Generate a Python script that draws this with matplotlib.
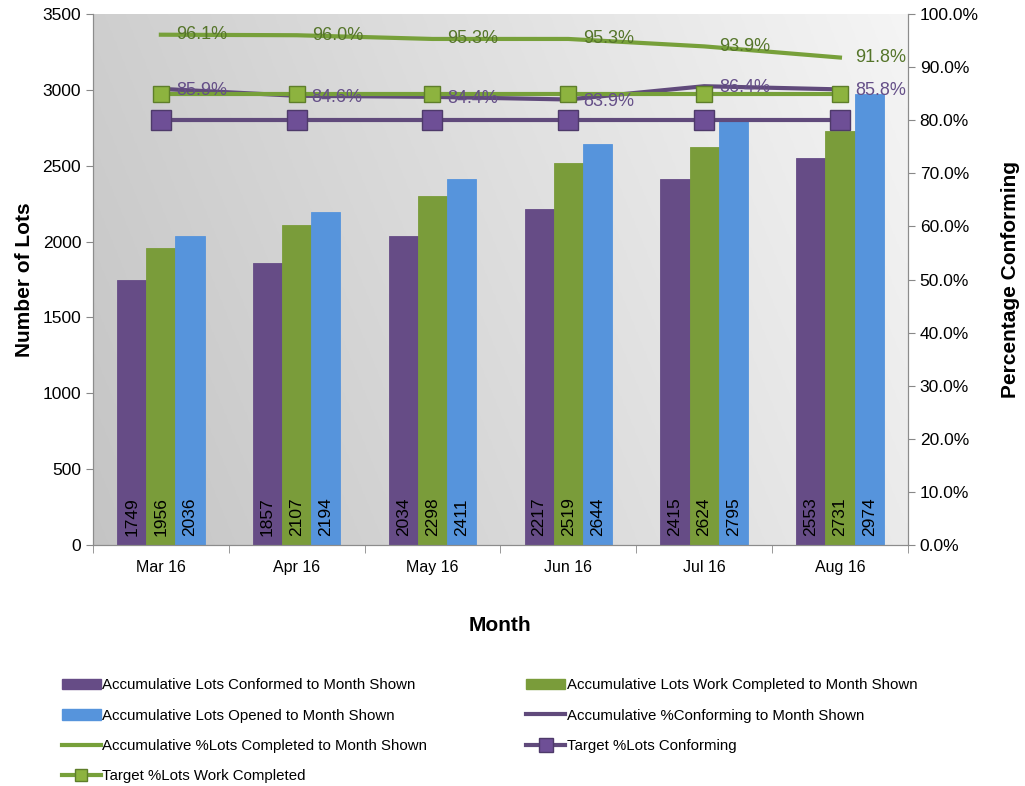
import numpy as np
import matplotlib
matplotlib.use("Agg")
import matplotlib.pyplot as plt
from matplotlib.lines import Line2D
from matplotlib.patches import Patch

months = ["Mar 16", "Apr 16", "May 16", "Jun 16", "Jul 16", "Aug 16"]
lots_conformed = [1749, 1857, 2034, 2217, 2415, 2553]
lots_completed = [1956, 2107, 2298, 2519, 2624, 2731]
lots_opened = [2036, 2194, 2411, 2644, 2795, 2974]
pct_conforming = [85.9, 84.6, 84.4, 83.9, 86.4, 85.8]
pct_completed = [96.1, 96.0, 95.3, 95.3, 93.9, 91.8]
target_conforming = [80, 80, 80, 80, 80, 80]
target_completed = [85, 85, 85, 85, 85, 85]

plt.rcParams['font.family'] = ['Liberation Sans', 'DejaVu Sans']

c_purple = "#664C86"
c_green = "#7A9C3A"
c_blue = "#5694DC"
c_pline = "#604A7B"
c_gline = "#77A03A"
c_plab = "#654F88"
c_glab = "#55752A"

fig = plt.figure(figsize=(10.25, 7.86), dpi=100)
ax = fig.add_axes([0.0907, 0.3066, 0.795, 0.6756])
ax2 = ax.twinx()

# gradient background
gx = np.linspace(0, 1, 200)
gy = np.linspace(0, 1, 200)
GX, GY = np.meshgrid(gx, gy)
val = 0.77 + 0.15 * GX + 0.04 * GY
img = np.dstack([val, val, val])
ax.imshow(img, extent=[0, 1, 0, 1], transform=ax.transAxes, origin='lower',
          aspect='auto', zorder=0)

x = np.arange(len(months))
w = 0.215
series = [(lots_conformed, c_purple, -w), (lots_completed, c_green, 0), (lots_opened, c_blue, w)]
for vals, col, off in series:
    ax.bar(x + off, vals, width=w, color=col, edgecolor=col, linewidth=0.6, zorder=2)
    for xi, v in zip(x + off, vals):
        ax.text(xi, 60, str(v), rotation=90, ha='center', va='bottom', fontsize=12.5,
                color='black', zorder=3)

ax.set_xlim(-0.5, len(months) - 0.5)
ax.set_ylim(0, 3500)
ax.set_yticks(np.arange(0, 3501, 500))
ax.set_xticks(x)
ax.set_xticklabels(months, fontsize=11.5)
ax.set_xticks(np.arange(-0.5, len(months), 1), minor=True)
ax.tick_params(axis='x', which='major', length=0, pad=11)
ax.tick_params(axis='x', which='minor', length=6, color='#888888')
ax.tick_params(axis='y', labelsize=12.5, color='#888888', length=5)

ax2.set_ylim(0, 100)
ax2.set_yticks(np.arange(0, 101, 10))
ax2.set_yticklabels([f"{v:.1f}%" for v in np.arange(0, 101, 10)], fontsize=12.5)
ax2.tick_params(axis='y', color='#888888', length=5)

for a in (ax, ax2):
    for s in ['left', 'right', 'bottom']:
        a.spines[s].set_color('#8C8C8C')
    a.spines['top'].set_visible(False)

ax2.plot(x, pct_completed, color=c_gline, lw=3, zorder=4)
ax2.plot(x, pct_conforming, color=c_pline, lw=3, zorder=4)
ax2.plot(x, target_completed, color=c_gline, lw=3, marker='s', markersize=11,
         markerfacecolor="#8DB33F", markeredgecolor="#5E7E2A", zorder=5)
ax2.plot(x, target_conforming, color=c_pline, lw=3, marker='s', markersize=14,
         markerfacecolor="#6E4F96", markeredgecolor="#4E3A6A", zorder=5)

for xi, v in zip(x, pct_completed):
    ax2.text(xi + 0.11, v, f"{v:.1f}%", ha='left', va='center', fontsize=13,
             color=c_glab, zorder=6)
for xi, v in zip(x, pct_conforming):
    ax2.text(xi + 0.11, v - 0.3, f"{v:.1f}%", ha='left', va='center', fontsize=13,
             color=c_plab, zorder=6)

ax.set_ylabel("Number of Lots", fontsize=15, fontweight='bold', labelpad=6)
ax2.set_ylabel("Percentage Conforming", fontsize=15, fontweight='bold', labelpad=16)
ax.set_xlabel("Month", fontsize=15, fontweight='bold', labelpad=29)

h_conf = Patch(facecolor=c_purple, edgecolor=c_purple)
h_comp = Patch(facecolor=c_green, edgecolor=c_green)
h_open = Patch(facecolor=c_blue, edgecolor=c_blue)
h_pconf = Line2D([], [], color=c_pline, lw=3)
h_pcomp = Line2D([], [], color=c_gline, lw=3)
h_tconf = Line2D([], [], color=c_pline, lw=3, marker='s', markersize=10,
                 markerfacecolor="#6E4F96", markeredgecolor="#4E3A6A")
h_tcomp = Line2D([], [], color=c_gline, lw=3, marker='s', markersize=8,
                 markerfacecolor="#8DB33F", markeredgecolor="#5E7E2A")
handles = [h_conf, h_open, h_pcomp, h_tcomp, h_comp, h_pconf, h_tconf]
labels = ["Accumulative Lots Conformed to Month Shown",
          "Accumulative Lots Opened to Month Shown",
          "Accumulative %Lots Completed to Month Shown",
          "Target %Lots Work Completed",
          "Accumulative Lots Work Completed to Month Shown",
          "Accumulative %Conforming to Month Shown",
          "Target %Lots Conforming"]
fig.legend(handles, labels, ncol=2, loc='upper left', bbox_to_anchor=(0.047, 0.154),
           frameon=False, fontsize=10.8, columnspacing=6.6, handlelength=2.6,
           handletextpad=0.1, labelspacing=1.08)

fig.savefig("out.png", dpi=100)
